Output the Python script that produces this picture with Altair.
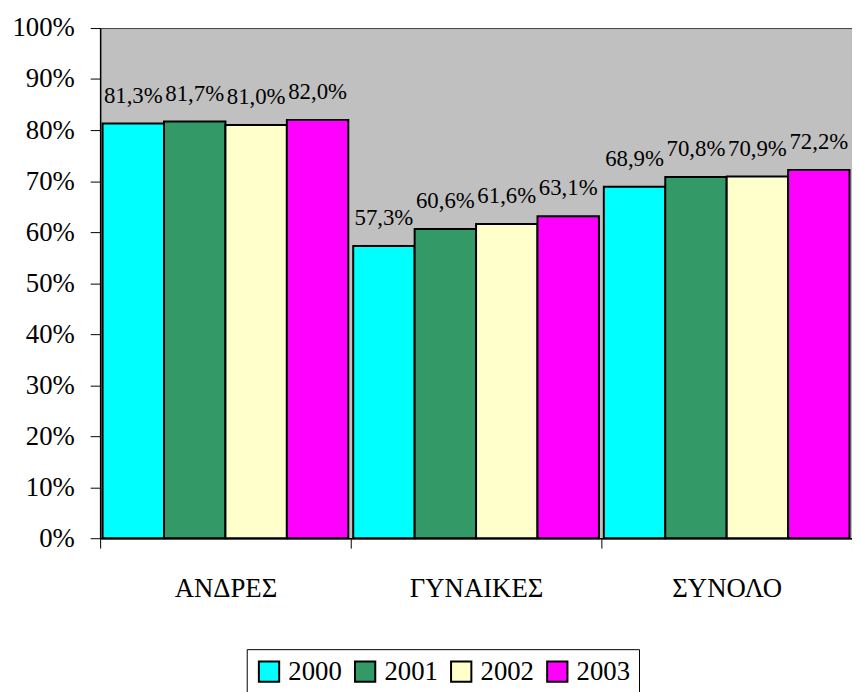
import altair as alt
import pandas as pd

groups = ["ΑΝΔΡΕΣ", "ΓΥΝΑΙΚΕΣ", "ΣΥΝΟΛΟ"]
years = ["2000", "2001", "2002", "2003"]
v2000 = [81.3, 57.3, 68.9]
v2001 = [81.7, 60.6, 70.8]
v2002 = [81.0, 61.6, 70.9]
v2003 = [82.0, 63.1, 72.2]
colors = ["#00FFFF", "#339966", "#FFFFCC", "#FF00FF"]
y_ticks = [0, 0.1, 0.2, 0.3, 0.4, 0.5, 0.6, 0.7, 0.8, 0.9, 1.0]

FONT = "'Liberation Serif', 'Times New Roman', 'DejaVu Serif', serif"

rows = []
for yr, vals in zip(years, [v2000, v2001, v2002, v2003]):
    for g, v in zip(groups, vals):
        rows.append({"group": g, "year": yr, "value": v / 100.0,
                     "label": f"{v:.1f}%".replace(".", ",")})
df = pd.DataFrame(rows)

base = alt.Chart(df).encode(
    x=alt.X("group:N", sort=groups,
            scale=alt.Scale(paddingInner=0, paddingOuter=0),
            axis=alt.Axis(title=None, labelAngle=0, tickBand="extent",
                          labelFont=FONT, labelFontSize=27, labelColor="black",
                          labelPadding=28, tickSize=10, tickColor="black",
                          domainColor="black", domainWidth=1.5)),
    xOffset=alt.XOffset("year:N", sort=years,
                        scale=alt.Scale(paddingInner=0, paddingOuter=0.04)),
    y=alt.Y("value:Q", scale=alt.Scale(domain=[0, 1]),
            axis=alt.Axis(title=None, values=y_ticks, format=".0%",
                          labelFont=FONT, labelFontSize=27, labelColor="black",
                          labelPadding=16, tickSize=10, tickColor="black",
                          domainColor="black", domainWidth=1.5, grid=False)),
)

bars = base.mark_bar(stroke="black", strokeWidth=2).encode(
    color=alt.Color("year:N", sort=years,
                    scale=alt.Scale(domain=years, range=colors),
                    legend=alt.Legend(title=None, orient="none", legendX=148, legendY=627,
                                      direction="horizontal", symbolType="square",
                                      symbolSize=420, symbolStrokeColor="black",
                                      symbolStrokeWidth=2, symbolOpacity=1,
                                      labelFont=FONT, labelFontSize=27, labelColor="black",
                                      labelOffset=6, columnPadding=9, padding=9,
                                      strokeColor="black", fillColor="white"))
)

text = base.mark_text(dy=-21, baseline="alphabetic", fontSize=23, font=FONT,
                      color="black").encode(text="label:N")

chart = (bars + text).properties(
    width=759, height=515,
    autosize=alt.AutoSizeParams(type="none"),
    padding={"left": 93, "top": 17, "right": 0, "bottom": 152},
).configure_view(fill="#C0C0C0", stroke="#404040", strokeWidth=1)

chart.save("out.html", embed_options={"renderer": "svg", "actions": False})
